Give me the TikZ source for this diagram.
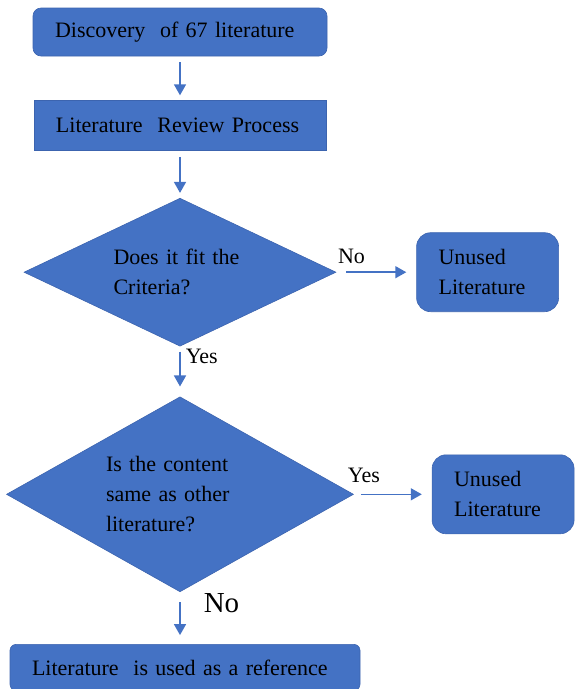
\documentclass[tikz,border=0pt]{standalone}
\usepackage{fontspec}
\setmainfont{Liberation Serif}
\definecolor{ShapeBlue}{RGB}{68, 114, 196}
\definecolor{EdgeBlue}{RGB}{60, 100, 175}
\usetikzlibrary{arrows.meta, positioning, shapes.geometric}

\begin{document}
\begin{tikzpicture}[
    x=1pt, y=-1pt,
    node distance=44pt,
    every node/.style={font=\rmfamily\fontsize{22}{30}\selectfont},
    procbox/.style={draw=EdgeBlue, line width=0.6pt, fill=ShapeBlue, align=left,
                    inner xsep=22pt, inner ysep=0pt, minimum height=48pt},
    sidebox/.style={procbox, rounded corners=14pt, text width=98pt, minimum height=79pt},
    decision/.style={diamond, aspect=2, draw=EdgeBlue, line width=0.6pt, fill=ShapeBlue,
                     inner sep=0pt, align=left},
    flow/.style={draw=ShapeBlue, line width=1.5pt, -{Triangle[length=11pt, width=12pt]},
                 shorten <=6pt, shorten >=5pt},
    lbl/.style={inner sep=1pt}
]
\useasboundingbox (0,0) rectangle (576,689);
\node[procbox, rounded corners=8pt, text width=250pt] (disc) at (180,32) {Discovery~ of 67 literature};
\node[procbox, text width=248pt, minimum height=50pt, below=of disc] (review) {Literature~ Review Process};
\node[decision, text width=133pt, minimum width=312pt, minimum height=148pt, below=47pt of review] (crit) {Does it fit the\\Criteria?};
\node[sidebox, right=80pt of crit] (unused1) {Unused\\Literature};
\node[decision, text width=148pt, minimum width=347pt, minimum height=195pt, below=50pt of crit] (same) {Is the content\\same as other\\literature?};
\node[sidebox, right=78pt of same] (unused2) {Unused\\Literature};
\node[procbox, rounded corners=6pt, text width=306pt, minimum height=46pt, below=52pt of same, xshift=5pt] (used) {Literature~ is used as a reference};
\draw[flow] (disc) -- (review);
\draw[flow] (review) -- (crit);
\draw[flow, shorten <=10pt, shorten >=10pt] (crit) -- node[lbl, above, pos=0.19, yshift=7pt] (no1) {No} (unused1);
\draw[flow, shorten <=5pt, shorten >=10pt] (crit) -- node[lbl, right, pos=0.2, xshift=4pt] (yes1) {Yes} (same);
\draw[flow, shorten <=7pt, shorten >=10pt] (same) -- node[lbl, above, pos=0.13, yshift=10pt] (yes2) {Yes} (unused2);
\draw[flow, shorten <=10pt, shorten >=9pt] (same.south) -- node[lbl, right, pos=0.21, xshift=22pt, font=\rmfamily\fontsize{29}{32}\selectfont] (no2) {No} (same.south |- used.north);
\end{tikzpicture}
\end{document}
